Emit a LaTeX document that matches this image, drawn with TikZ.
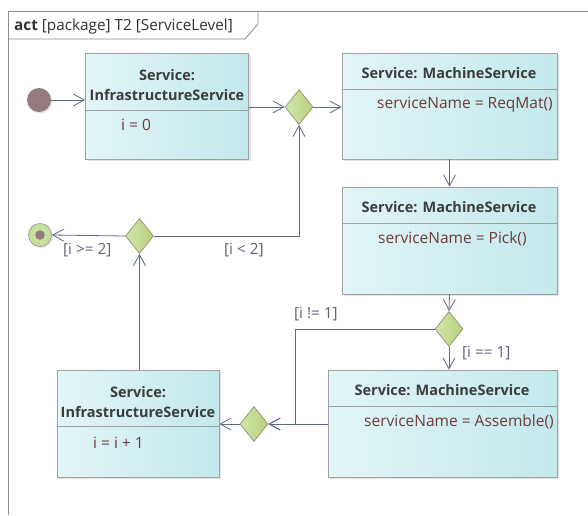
\documentclass[tikz,border=0pt]{standalone}
\usepackage{fontspec}
\setmainfont{Open Sans}
\usetikzlibrary{arrows.meta,shadows,shapes.geometric}

\definecolor{frameline}{HTML}{8C8C8C}
\definecolor{boxline}{HTML}{A0A0A0}
\definecolor{boxL}{HTML}{E2F5F7}
\definecolor{boxR}{HTML}{C3E9EC}
\definecolor{flow}{HTML}{5E6A88}
\definecolor{titletext}{HTML}{3C3C3C}
\definecolor{attrtext}{HTML}{6E3A3A}
\definecolor{guardtext}{HTML}{5C6478}
\definecolor{decL}{HTML}{D2E6A8}
\definecolor{decR}{HTML}{B4D17E}
\definecolor{decline}{HTML}{9C8F70}
\definecolor{token}{HTML}{957A7E}
\definecolor{finalfill}{HTML}{C4E09A}

\tikzset{
  actbox/.style={draw=boxline, line width=0.8pt, left color=boxL, right color=boxR,
    rectangle, inner sep=0pt,
    drop shadow={opacity=0.22, shadow xshift=2pt, shadow yshift=-2pt}},
  decision/.style={diamond, draw=decline, line width=0.7pt, left color=decL, right color=decR,
    minimum width=28pt, minimum height=35pt, inner sep=0pt, aspect=0.8},
  flowline/.style={draw=flow, line width=0.8pt, -{Straight Barb[length=11pt,width=12pt,line width=0.8pt]}},
  boxtitle/.style={font=\fontsize{14.5}{20}\selectfont\bfseries, text=titletext, align=center, inner sep=0pt},
  attr/.style={font=\fontsize{15.5}{18}\selectfont, text=attrtext, anchor=west, inner sep=0pt},
  guard/.style={font=\fontsize{15.3}{18}\selectfont, text=guardtext, anchor=west, inner sep=0pt},
}

\begin{document}
\begin{tikzpicture}[x=1pt,y=-1pt]
\useasboundingbox (0,0) rectangle (588,515);
\fill[white] (0,0) rectangle (588,515);

% diagram frame and its heading tab
\draw[frameline, line width=0.8pt] (8,515) -- (8,11) -- (588,11);
\draw[frameline, line width=0.8pt] (8,39) -- (245,39) -- (258,24) -- (258,11);
\node[anchor=base west, inner sep=0pt, font=\fontsize{15.3}{18}\selectfont, text=black!80]
  (heading) at (14,30.5) {\textbf{act} [package] T2 [ServiceLevel]};

% initial and final nodes
\node[circle, fill=token, minimum size=24pt, inner sep=0pt,
  drop shadow={opacity=0.2, shadow xshift=1.5pt, shadow yshift=-1.5pt}] (init) at (39,100) {};
\node[circle, draw=boxline, line width=0.8pt, fill=finalfill, minimum size=23pt, inner sep=0pt,
  drop shadow={opacity=0.2, shadow xshift=1.5pt, shadow yshift=-1.5pt}] (final) at (40,235) {};
\fill[token] (final) circle (4.8pt);

% actions
\node[actbox, minimum width=163pt, minimum height=106pt] (infra1) at (167,106) {};
\node[actbox, minimum width=215pt, minimum height=106pt] (req) at (449.5,106) {};
\node[actbox, minimum width=215pt, minimum height=107pt] (pick) at (449.5,240.5) {};
\node[actbox, minimum width=229pt, minimum height=107pt] (assemble) at (442.5,423.5) {};
\node[actbox, minimum width=162pt, minimum height=107pt] (infra2) at (138,423.5) {};

% compartment dividers
\draw[boxline, line width=0.8pt] (infra1.west |- 0,110) -- (infra1.east |- 0,110);
\draw[boxline, line width=0.8pt] (req.west |- 0,89) -- (req.east |- 0,89);
\draw[boxline, line width=0.8pt] (pick.west |- 0,223) -- (pick.east |- 0,223);
\draw[boxline, line width=0.8pt] (assemble.west |- 0,406) -- (assemble.east |- 0,406);
\draw[boxline, line width=0.8pt] (infra2.west |- 0,426) -- (infra2.east |- 0,426);

% action texts
\node[boxtitle] (infra1t) at (167,85) {Service:\\InfrastructureService};
\node[attr] (infra1a) at (121,125) {i = 0};
\node[boxtitle] (reqt) at (449,73) {Service: MachineService};
\node[attr] (reqa) at (377,104.5) {serviceName = ReqMat()};
\node[boxtitle] (pickt) at (449,207) {Service: MachineService};
\node[attr] (picka) at (378,238.5) {serviceName = Pick()};
\node[boxtitle] (assemblet) at (442,390) {Service: MachineService};
\node[attr] (assemblea) at (364,421.5) {serviceName = Assemble()};
\node[boxtitle] (infra2t) at (138,402) {Service:\\InfrastructureService};
\node[attr] (infra2a) at (93,442.5) {i = i + 1};

% decision nodes
\node[decision] (d1) at (299,107) {};
\node[decision] (d2) at (449,329) {};
\node[decision] (d3) at (254,424) {};
\node[decision] (d4) at (139.5,236) {};

% flows
\coordinate (loop) at (295,424);
\draw[flowline] (init) -- (init -| infra1.west);
\draw[flowline] (infra1.east |- d1) -- (d1.west);
\draw[flowline] (d1.east) -- (d1 -| req.west);
\draw[flowline] (req.south) -- (pick.north);
\draw[flowline] (pick.south) -- (d2.north);
\draw[flowline] (d2.south) -- (d2 |- assemble.north);
\draw[flowline] (d2.west) -| (loop) -- (d3.east);
\draw[flowline] (assemble.west |- d3) -- (d3.east);
\draw[flowline] (d3.west) -- (d3 -| infra2.east);
\draw[flowline] (d4 |- infra2.north) -- (d4.south);
\draw[flowline] (d4.west) -- (final.east);
\draw[flowline] (d4.east) -| (d1.south);

% guards
\node[guard] (gEq) at (462,353) {[i == 1]};
\node[guard] (gNe) at (294,314) {[i != 1]};
\node[guard] (gGe) at (63,250) {[i >= 2]};
\node[guard] (gLt) at (224,250) {[i < 2]};
\end{tikzpicture}
\end{document}
